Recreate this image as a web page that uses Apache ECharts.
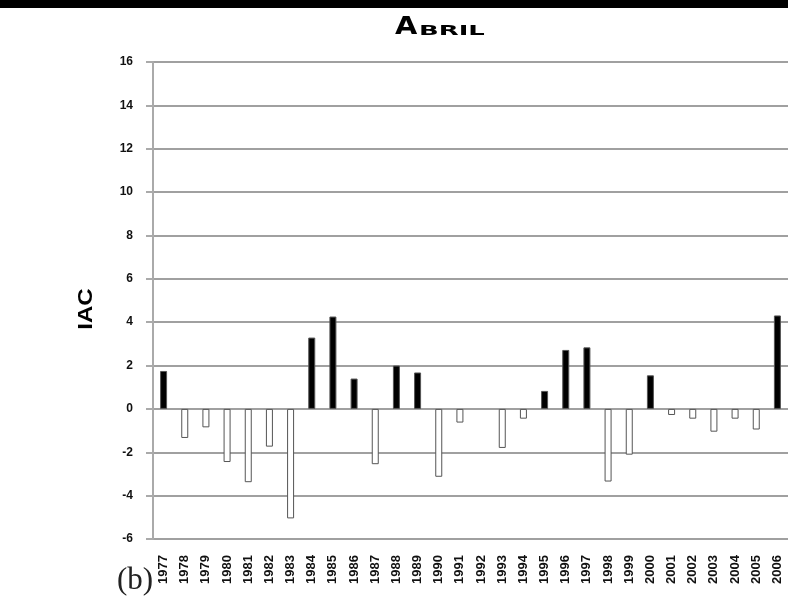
<!DOCTYPE html>
<html>
<head>
<meta charset="utf-8">
<script src="https://cdn.jsdelivr.net/npm/echarts@6/dist/echarts.min.js"></script>
<style>
  html, body { margin: 0; padding: 0; background: #fff; }
  #main { width: 788px; height: 615px; }
</style>
</head>
<body>
<div id="main"></div>
<script>
// dados do gráfico
var years = ['1977', '1978', '1979', '1980', '1981', '1982', '1983', '1984', '1985', '1986',
  '1987', '1988', '1989', '1990', '1991', '1992', '1993', '1994', '1995', '1996',
  '1997', '1998', '1999', '2000', '2001', '2002', '2003', '2004', '2005', '2006'];
var iac = [1.75, -1.34, -0.85, -2.45, -3.38, -1.74, -5.05, 3.29, 4.26, 1.4,
  -2.55, 2.0, 1.68, -3.13, -0.63, null, -1.8, -0.45, 0.83, 2.72,
  2.84, -3.35, -2.11, 1.55, -0.28, -0.45, -1.05, -0.45, -0.95, 4.31];
var yTicks = { min: -6, max: 16, step: 2 };

(function () {
  var chart = echarts.init(document.getElementById('main'));
  var option = {
    backgroundColor: '#fff',
    animation: false,
    grid: { left: 153, right: -4, top: 62, bottom: 76 },
    xAxis: {
      type: 'category',
      data: years,
      axisLine: { show: false },
      axisTick: { show: false },
      axisLabel: {
        rotate: 90,
        interval: 0,
        margin: 16,
        fontFamily: 'Liberation Sans',
        fontWeight: 'bold',
        fontSize: 13,
        color: '#111'
      }
    },
    yAxis: {
      type: 'value',
      min: yTicks.min,
      max: yTicks.max,
      interval: yTicks.step,
      axisLine: { show: true, lineStyle: { color: '#aaa', width: 2 } },
      axisTick: { show: true, inside: false, length: 7, lineStyle: { color: '#aaa', width: 2 } },
      axisLabel: {
        margin: 20,
        fontFamily: 'Liberation Sans',
        fontWeight: 'bold',
        fontSize: 12,
        color: '#111'
      },
      splitLine: { lineStyle: { color: '#a0a0a0', width: 2 } }
    },
    series: [{
      type: 'bar',
      data: iac,
      barWidth: 7,
      itemStyle: {
        color: function (p) { return p.value >= 0 ? '#000' : '#fff'; },
        borderColor: '#555',
        borderWidth: 1
      }
    }],
    graphic: [
      // faixa preta no topo
      { type: 'rect', shape: { x: 0, y: 0, width: 788, height: 8 }, style: { fill: '#000' } },
      // título em versalete "ABRIL"
      {
        type: 'text', x: 395, y: 28, scaleX: 1.2,
        style: { text: 'A', font: 'bold 24px "DejaVu Sans"', fill: '#000', textAlign: 'left', textVerticalAlign: 'middle' }
      },
      {
        type: 'text', x: 419, y: 31, scaleX: 1.85,
        style: { text: 'BRIL', font: 'bold 14px "DejaVu Sans"', fill: '#000', textAlign: 'left', textVerticalAlign: 'middle' }
      },
      // nome do eixo
      {
        type: 'text', x: 86, y: 309, rotation: Math.PI / 2, scaleX: 1.15,
        style: { text: 'IAC', font: 'bold 21px "Liberation Sans"', fill: '#000', textAlign: 'center', textVerticalAlign: 'middle' }
      },
      {
        type: 'text', left: 117, top: 565,
        style: { text: '(b)', font: '31px "Liberation Serif"', fill: '#222' }
      }
    ]
  };
  chart.setOption(option);
})();
</script>
</body>
</html>
